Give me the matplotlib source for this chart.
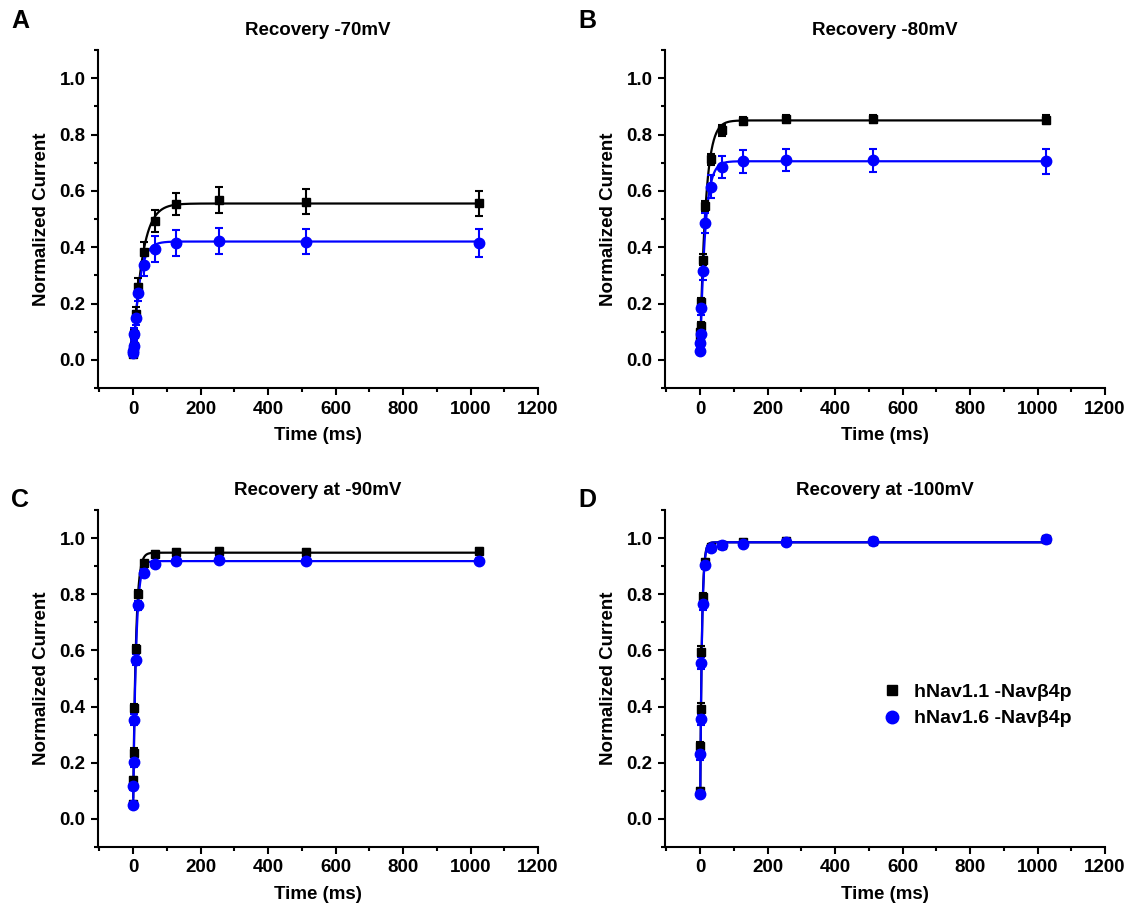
import matplotlib
matplotlib.use("Agg")
import matplotlib.pyplot as plt
import numpy as np
from matplotlib.ticker import MultipleLocator
from matplotlib.lines import Line2D

plt.rcParams['font.family'] = ['Liberation Sans', 'DejaVu Sans']
plt.rcParams['font.weight'] = 'bold'
plt.rcParams['axes.labelweight'] = 'bold'
plt.rcParams['axes.titleweight'] = 'bold'

# recovery intervals (ms)
time_ms = [0.5, 1, 2, 4, 8, 16, 32, 64, 128, 256, 512, 1024]

# panel A, -70 mV
a_nav11 = [0.02, 0.03, 0.05, 0.09, 0.163, 0.259, 0.383, 0.493, 0.553, 0.568, 0.562, 0.556]
a_nav11_err = [0.01, 0.01, 0.015, 0.02, 0.025, 0.03, 0.035, 0.04, 0.04, 0.045, 0.045, 0.045]
a_nav16 = [0.025, 0.03, 0.05, 0.092, 0.149, 0.238, 0.337, 0.394, 0.415, 0.422, 0.42, 0.415]
a_nav16_err = [0.01, 0.01, 0.015, 0.02, 0.025, 0.03, 0.04, 0.045, 0.045, 0.045, 0.045, 0.05]

# panel B, -80 mV
b_nav11 = [0.07, 0.10, 0.12, 0.205, 0.355, 0.545, 0.712, 0.815, 0.848, 0.855, 0.855, 0.853]
b_nav11_err = [0.01, 0.01, 0.015, 0.015, 0.02, 0.02, 0.02, 0.02, 0.015, 0.015, 0.015, 0.015]
b_nav16 = [0.03, 0.06, 0.09, 0.185, 0.315, 0.485, 0.615, 0.685, 0.705, 0.71, 0.708, 0.705]
b_nav16_err = [0.01, 0.015, 0.02, 0.025, 0.03, 0.035, 0.04, 0.04, 0.04, 0.04, 0.04, 0.045]

# panel C, -90 mV
c_nav11 = [0.054, 0.14, 0.236, 0.395, 0.605, 0.80, 0.91, 0.943, 0.95, 0.955, 0.952, 0.955]
c_nav11_err = [0.01, 0.01, 0.015, 0.015, 0.015, 0.015, 0.01, 0.01, 0.01, 0.01, 0.01, 0.01]
c_nav16 = [0.05, 0.118, 0.204, 0.354, 0.567, 0.76, 0.875, 0.907, 0.92, 0.922, 0.92, 0.92]
c_nav16_err = [0.01, 0.015, 0.02, 0.02, 0.02, 0.015, 0.015, 0.01, 0.01, 0.01, 0.01, 0.01]

# panel D, -100 mV
d_nav11 = [0.10, 0.26, 0.393, 0.595, 0.79, 0.915, 0.968, 0.975, 0.986, 0.99, 0.99, 0.995]
d_nav11_err = [0.01, 0.015, 0.02, 0.02, 0.015, 0.01, 0.01, 0.01, 0.01, 0.01, 0.01, 0.01]
d_nav16 = [0.09, 0.23, 0.355, 0.555, 0.765, 0.905, 0.965, 0.975, 0.98, 0.985, 0.99, 0.995]
d_nav16_err = [0.01, 0.02, 0.02, 0.02, 0.02, 0.015, 0.01, 0.01, 0.01, 0.01, 0.01, 0.01]

# single-exponential fits: (offset, amplitude, tau ms)
a_fit = [(0.0, 0.555, 26.0), (0.0, 0.42, 18.0)]
b_fit = [(0.03, 0.82, 16.5), (0.0, 0.705, 14.6)]
c_fit = [(0.02, 0.928, 8.0), (0.02, 0.898, 8.5)]
d_fit = [(0.0, 0.985, 5.0), (0.0, 0.985, 5.2)]

titles = ["Recovery -70mV", "Recovery -80mV", "Recovery at -90mV", "Recovery at -100mV"]
letters = ["A", "B", "C", "D"]
series_names = ["hNav1.1 -Nav\u03b24p", "hNav1.6 -Nav\u03b24p"]

W, H = 1143, 917
fig = plt.figure(figsize=(W / 100, H / 100), dpi=100)

# axes boxes in pixels: left, top, right, bottom
boxes = [(98, 50, 538, 388), (665, 50, 1105, 388),
         (98, 510, 538, 847), (665, 510, 1105, 847)]
letter_pos = [(11, 21), (578, 21), (11, 500), (578, 500)]

panels = [
    (a_nav11, a_nav11_err, a_nav16, a_nav16_err, a_fit),
    (b_nav11, b_nav11_err, b_nav16, b_nav16_err, b_fit),
    (c_nav11, c_nav11_err, c_nav16, c_nav16_err, c_fit),
    (d_nav11, d_nav11_err, d_nav16, d_nav16_err, d_fit),
]

t_fit = np.linspace(time_ms[0], time_ms[-1], 4000)

for i, (y1, e1, y2, e2, fits) in enumerate(panels):
    l, t, r, b = boxes[i]
    ax = fig.add_axes([l / W, 1 - b / H, (r - l) / W, (b - t) / H])

    for (y, e, fit, col, mk, ms) in [(y1, e1, fits[0], 'black', 's', 6),
                                     (y2, e2, fits[1], 'blue', 'o', 7.5)]:
        y0, amp, tau = fit
        ax.plot(t_fit, y0 + amp * (1 - np.exp(-t_fit / tau)), color=col, lw=1.6, zorder=2)
        ax.errorbar(time_ms, y, yerr=e, fmt=mk, color=col, ms=ms, capsize=3,
                    elinewidth=1.5, capthick=1.5, zorder=3)

    ax.set_xlim(-104, 1200)
    ax.set_ylim(-0.1, 1.1)
    ax.set_xticks(range(0, 1201, 200))
    ax.set_yticks([0.0, 0.2, 0.4, 0.6, 0.8, 1.0])
    ax.xaxis.set_minor_locator(MultipleLocator(100))
    ax.yaxis.set_minor_locator(MultipleLocator(0.1))
    ax.set_yticklabels(['0.0', '0.2', '0.4', '0.6', '0.8', '1.0'])
    ax.spines['top'].set_visible(False)
    ax.spines['right'].set_visible(False)
    ax.spines['left'].set_linewidth(1.5)
    ax.spines['bottom'].set_linewidth(1.5)
    ax.tick_params(which='major', direction='out', length=5, width=1.5, labelsize=13.5, pad=4)
    ax.tick_params(which='minor', direction='out', length=3, width=1.5)
    ax.set_xlabel("Time (ms)", fontsize=13.5, fontweight='bold', labelpad=7)
    ax.set_ylabel("Normalized Current", fontsize=13.5, fontweight='bold', labelpad=7)
    ax.set_title(titles[i], fontsize=13.5, fontweight='bold', pad=11)

    lx, ly = letter_pos[i]
    fig.text(lx / W, 1 - ly / H, letters[i], fontsize=18, fontweight='bold',
             ha='left', va='center')

    if i == 3:
        handles = [Line2D([], [], ls='none', marker='s', color='black', ms=7),
                   Line2D([], [], ls='none', marker='o', color='blue', ms=9)]
        ax.legend(handles, series_names, loc='center left', bbox_to_anchor=(0.45, 0.42),
                  frameon=False, handletextpad=0.5, labelspacing=0.45,
                  handlelength=1.2, prop={'weight': 'bold', 'size': 14})

fig.savefig("out.png", dpi=100)
